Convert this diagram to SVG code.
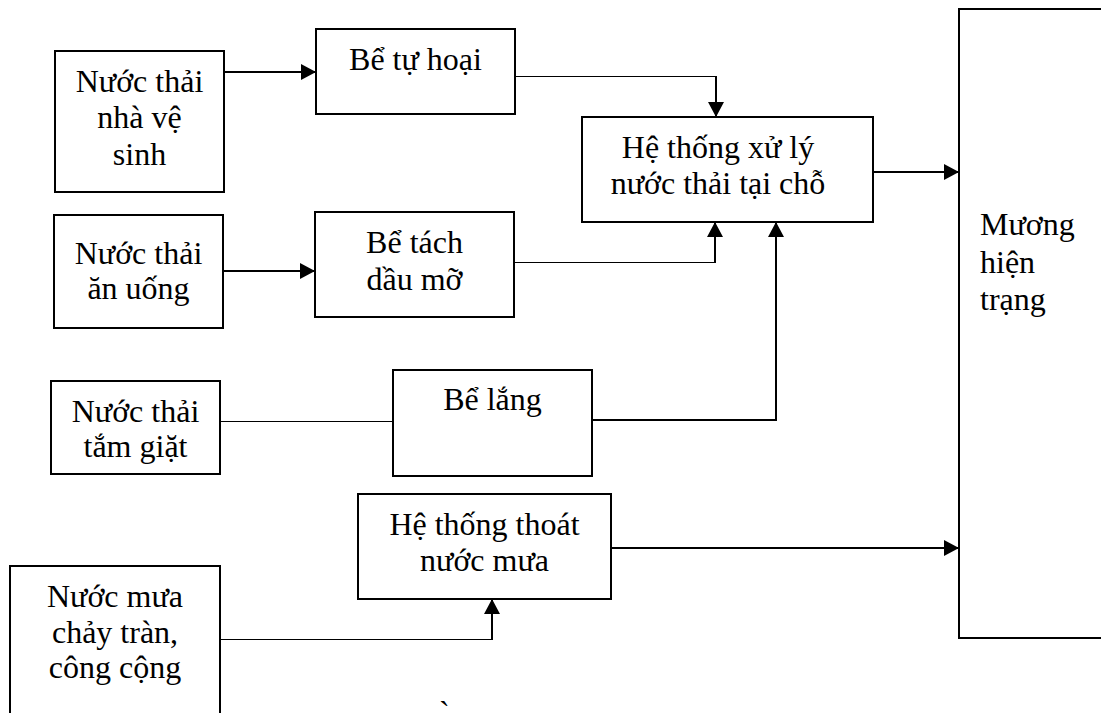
<svg xmlns="http://www.w3.org/2000/svg" width="1101" height="713" viewBox="0 0 1101 713">
<style>
.box{fill:#fff;stroke:#000;stroke-width:2}
.t{font-family:"Liberation Serif","Times New Roman",serif;font-size:32px;fill:#000;text-anchor:middle}
.tl{font-family:"Liberation Serif","Times New Roman",serif;font-size:32px;fill:#000}
.thin{fill:none;stroke:#000;stroke-width:1}
.thick{fill:none;stroke:#000;stroke-width:2}
</style>
<defs>
<marker id="ah" markerUnits="userSpaceOnUse" markerWidth="17" markerHeight="17" refX="15" refY="8" orient="auto">
<path d="M0,0 L15,8 L0,16 z" fill="#000"/>
</marker>
</defs>
<rect width="1101" height="713" fill="#fff"/>

<g id="connectors">
<path class="thick" d="M224,72 H316" marker-end="url(#ah)"/>
<path class="thin" d="M515,76.5 H716"/>
<path class="thick" d="M716,76 V117" marker-end="url(#ah)"/>
<path class="thick" d="M223,271 H315" marker-end="url(#ah)"/>
<path class="thin" d="M514,262.5 H715"/>
<path class="thick" d="M715,263 V222" marker-end="url(#ah)"/>
<path class="thin" d="M220,421.5 H393"/>
<path class="thick" d="M592,420 H776 V222" marker-end="url(#ah)"/>
<path class="thick" d="M873,172 H959" marker-end="url(#ah)"/>
<path class="thick" d="M611,548 H959" marker-end="url(#ah)"/>
<path class="thin" d="M220,639.5 H492"/>
<path class="thick" d="M492,640 V599" marker-end="url(#ah)"/>
</g>

<g id="n-nhavesinh">
<rect class="box" x="55" y="51" width="169" height="141"/>
<text class="t" x="139.5" y="92">Nước thải</text>
<text class="t" x="139.5" y="128">nhà vệ</text>
<text class="t" x="139.5" y="165">sinh</text>
</g>

<g id="n-betuhoai">
<rect class="box" x="316" y="29" width="199" height="85"/>
<text class="t" x="415.5" y="70">Bể tự hoại</text>
</g>

<g id="n-hethongxuly">
<rect class="box" x="582" y="117" width="291" height="105"/>
<text class="t" x="718" y="158">Hệ thống xử lý</text>
<text class="t" x="718" y="194">nước thải tại chỗ</text>
</g>

<g id="n-anuong">
<rect class="box" x="54" y="215" width="169" height="113"/>
<text class="t" x="138.5" y="264">Nước thải</text>
<text class="t" x="138.5" y="299">ăn uống</text>
</g>

<g id="n-betach">
<rect class="box" x="315" y="212" width="199" height="105"/>
<text class="t" x="414.5" y="253">Bể tách</text>
<text class="t" x="414.5" y="290">dầu mỡ</text>
</g>

<g id="n-tamgiat">
<rect class="box" x="51" y="381" width="169" height="93"/>
<text class="t" x="135.5" y="422">Nước thải</text>
<text class="t" x="135.5" y="457">tắm giặt</text>
</g>

<g id="n-belang">
<rect class="box" x="393" y="370" width="199" height="106"/>
<text class="t" x="492.5" y="410">Bể lắng</text>
</g>

<g id="n-thoatnuocmua">
<rect class="box" x="358" y="494" width="253" height="105"/>
<text class="t" x="484.5" y="535">Hệ thống thoát</text>
<text class="t" x="484.5" y="571">nước mưa</text>
</g>

<g id="n-nuocmua">
<rect class="box" x="10" y="566" width="210" height="170"/>
<text class="t" x="115" y="607">Nước mưa</text>
<text class="t" x="115" y="643">chảy tràn,</text>
<text class="t" x="115" y="678">công cộng</text>
</g>

<g id="n-muong">
<rect class="box" x="959" y="9" width="160" height="629"/>
<text class="tl" x="980" y="235">Mương</text>
<text class="tl" x="980" y="272.5">hiện</text>
<text class="tl" x="980" y="310">trạng</text>
</g>

<text class="tl" x="439" y="723">`</text>
</svg>
